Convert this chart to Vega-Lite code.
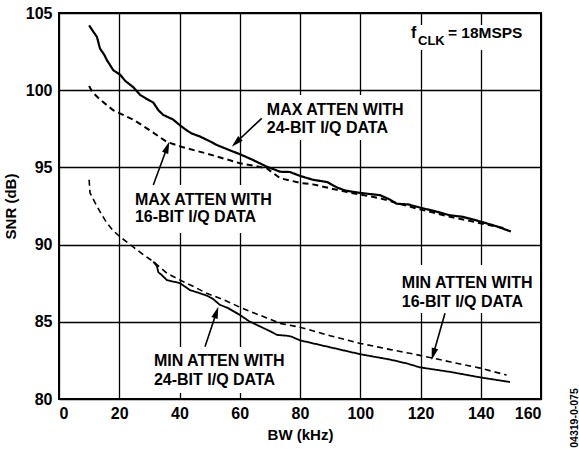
{
  "$schema": "https://vega.github.io/schema/vega-lite/v6.json",
  "autosize": {"type": "none"},
  "width": 482,
  "height": 386,
  "padding": {"left": 59, "top": 13, "right": 38, "bottom": 50},
  "background": "white",
  "config": {
    "view": {"stroke": "black", "strokeWidth": 2},
    "font": "Liberation Sans",
    "axis": {
      "grid": true, "gridColor": "black", "gridWidth": 1.3, "gridOpacity": 1,
      "domain": false, "ticks": false, "tickSize": 0,
      "labelFont": "Liberation Sans", "labelFontSize": 16, "labelFontWeight": "bold", "labelColor": "black",
      "titleFont": "Liberation Sans", "titleFontSize": 15, "titleFontWeight": "bold", "titleColor": "black"
    }
  },
  "datasets": {
    "curves": [
      {"series": "MAX24", "bw": 10, "snr": 104.2},
      {"series": "MAX24", "bw": 11, "snr": 103.9},
      {"series": "MAX24", "bw": 12.6, "snr": 103.45},
      {"series": "MAX24", "bw": 13.6, "snr": 102.7},
      {"series": "MAX24", "bw": 15, "snr": 102.3},
      {"series": "MAX24", "bw": 15.9, "snr": 101.95},
      {"series": "MAX24", "bw": 18, "snr": 101.3},
      {"series": "MAX24", "bw": 20.3, "snr": 101.0},
      {"series": "MAX24", "bw": 22, "snr": 100.6},
      {"series": "MAX24", "bw": 24.6, "snr": 100.2},
      {"series": "MAX24", "bw": 26.9, "snr": 99.7},
      {"series": "MAX24", "bw": 29, "snr": 99.45},
      {"series": "MAX24", "bw": 31.3, "snr": 99.2},
      {"series": "MAX24", "bw": 33, "snr": 98.7},
      {"series": "MAX24", "bw": 34.6, "snr": 98.4},
      {"series": "MAX24", "bw": 37.9, "snr": 98.1},
      {"series": "MAX24", "bw": 40, "snr": 97.75},
      {"series": "MAX24", "bw": 42.4, "snr": 97.4},
      {"series": "MAX24", "bw": 44, "snr": 97.2},
      {"series": "MAX24", "bw": 46.8, "snr": 97.0},
      {"series": "MAX24", "bw": 50, "snr": 96.7},
      {"series": "MAX24", "bw": 52.4, "snr": 96.45},
      {"series": "MAX24", "bw": 56.8, "snr": 96.1},
      {"series": "MAX24", "bw": 60.1, "snr": 95.85},
      {"series": "MAX24", "bw": 64.4, "snr": 95.48},
      {"series": "MAX24", "bw": 68.9, "snr": 95.05},
      {"series": "MAX24", "bw": 71, "snr": 94.9},
      {"series": "MAX24", "bw": 73.4, "snr": 94.72},
      {"series": "MAX24", "bw": 76.7, "snr": 94.7},
      {"series": "MAX24", "bw": 80, "snr": 94.45},
      {"series": "MAX24", "bw": 84.3, "snr": 94.2},
      {"series": "MAX24", "bw": 89, "snr": 94.05},
      {"series": "MAX24", "bw": 92.3, "snr": 93.7},
      {"series": "MAX24", "bw": 95, "snr": 93.5},
      {"series": "MAX24", "bw": 99.9, "snr": 93.35},
      {"series": "MAX24", "bw": 106.6, "snr": 93.2},
      {"series": "MAX24", "bw": 110, "snr": 92.9},
      {"series": "MAX24", "bw": 112, "snr": 92.65},
      {"series": "MAX24", "bw": 116, "snr": 92.6},
      {"series": "MAX24", "bw": 119.8, "snr": 92.4},
      {"series": "MAX24", "bw": 124, "snr": 92.2},
      {"series": "MAX24", "bw": 129.8, "snr": 91.9},
      {"series": "MAX24", "bw": 134, "snr": 91.8},
      {"series": "MAX24", "bw": 139.8, "snr": 91.5},
      {"series": "MAX24", "bw": 145, "snr": 91.2},
      {"series": "MAX24", "bw": 150, "snr": 90.85},
      {"series": "MAX16", "bw": 10, "snr": 100.27},
      {"series": "MAX16", "bw": 11, "snr": 99.9},
      {"series": "MAX16", "bw": 13.6, "snr": 99.4},
      {"series": "MAX16", "bw": 18, "snr": 98.7},
      {"series": "MAX16", "bw": 24.6, "snr": 98.1},
      {"series": "MAX16", "bw": 30.2, "snr": 97.4},
      {"series": "MAX16", "bw": 35.8, "snr": 96.65},
      {"series": "MAX16", "bw": 41.2, "snr": 96.3},
      {"series": "MAX16", "bw": 49, "snr": 95.9},
      {"series": "MAX16", "bw": 60, "snr": 95.27},
      {"series": "MAX16", "bw": 65, "snr": 95.1},
      {"series": "MAX16", "bw": 69, "snr": 94.94},
      {"series": "MAX16", "bw": 73.4, "snr": 94.3},
      {"series": "MAX16", "bw": 80, "snr": 94.0},
      {"series": "MAX16", "bw": 84.3, "snr": 93.9},
      {"series": "MAX16", "bw": 95.6, "snr": 93.4},
      {"series": "MAX16", "bw": 106.6, "snr": 93.0},
      {"series": "MAX16", "bw": 117.5, "snr": 92.4},
      {"series": "MAX16", "bw": 129.8, "snr": 91.8},
      {"series": "MAX16", "bw": 142, "snr": 91.3},
      {"series": "MAX16", "bw": 148, "snr": 91.05},
      {"series": "MIN16", "bw": 10, "snr": 94.2},
      {"series": "MIN16", "bw": 10.3, "snr": 93.35},
      {"series": "MIN16", "bw": 12, "snr": 92.7},
      {"series": "MIN16", "bw": 14, "snr": 92.0},
      {"series": "MIN16", "bw": 15.9, "snr": 91.4},
      {"series": "MIN16", "bw": 18, "snr": 90.9},
      {"series": "MIN16", "bw": 20.3, "snr": 90.5},
      {"series": "MIN16", "bw": 24.6, "snr": 89.85},
      {"series": "MIN16", "bw": 28, "snr": 89.35},
      {"series": "MIN16", "bw": 31.3, "snr": 88.9},
      {"series": "MIN16", "bw": 35.8, "snr": 88.15},
      {"series": "MIN16", "bw": 40.2, "snr": 87.7},
      {"series": "MIN16", "bw": 45, "snr": 87.25},
      {"series": "MIN16", "bw": 49, "snr": 86.85},
      {"series": "MIN16", "bw": 55, "snr": 86.4},
      {"series": "MIN16", "bw": 60, "snr": 85.95},
      {"series": "MIN16", "bw": 65, "snr": 85.55},
      {"series": "MIN16", "bw": 69, "snr": 85.25},
      {"series": "MIN16", "bw": 73.4, "snr": 84.9},
      {"series": "MIN16", "bw": 80, "snr": 84.65},
      {"series": "MIN16", "bw": 90, "snr": 84.1},
      {"series": "MIN16", "bw": 100, "snr": 83.6},
      {"series": "MIN16", "bw": 110, "snr": 83.2},
      {"series": "MIN16", "bw": 118, "snr": 82.9},
      {"series": "MIN16", "bw": 124, "snr": 82.65},
      {"series": "MIN16", "bw": 130, "snr": 82.4},
      {"series": "MIN16", "bw": 139.8, "snr": 82.0},
      {"series": "MIN16", "bw": 148.6, "snr": 81.55},
      {"series": "MIN24", "bw": 31.3, "snr": 88.9},
      {"series": "MIN24", "bw": 32.5, "snr": 88.6},
      {"series": "MIN24", "bw": 33, "snr": 88.2},
      {"series": "MIN24", "bw": 34, "snr": 88.05},
      {"series": "MIN24", "bw": 35.8, "snr": 87.7},
      {"series": "MIN24", "bw": 38, "snr": 87.6},
      {"series": "MIN24", "bw": 40.2, "snr": 87.5},
      {"series": "MIN24", "bw": 43.5, "snr": 87.05},
      {"series": "MIN24", "bw": 46, "snr": 86.9},
      {"series": "MIN24", "bw": 49, "snr": 86.7},
      {"series": "MIN24", "bw": 51, "snr": 86.5},
      {"series": "MIN24", "bw": 53.4, "snr": 86.1},
      {"series": "MIN24", "bw": 56, "snr": 85.9},
      {"series": "MIN24", "bw": 60, "snr": 85.45},
      {"series": "MIN24", "bw": 63, "snr": 85.05},
      {"series": "MIN24", "bw": 66.7, "snr": 84.7},
      {"series": "MIN24", "bw": 70, "snr": 84.4},
      {"series": "MIN24", "bw": 72.4, "snr": 84.15},
      {"series": "MIN24", "bw": 75.6, "snr": 84.1},
      {"series": "MIN24", "bw": 77, "snr": 84.05},
      {"series": "MIN24", "bw": 80, "snr": 83.8},
      {"series": "MIN24", "bw": 90, "snr": 83.35},
      {"series": "MIN24", "bw": 100, "snr": 82.9},
      {"series": "MIN24", "bw": 110, "snr": 82.55},
      {"series": "MIN24", "bw": 115.5, "snr": 82.3},
      {"series": "MIN24", "bw": 119.8, "snr": 82.05},
      {"series": "MIN24", "bw": 130, "snr": 81.75},
      {"series": "MIN24", "bw": 139.8, "snr": 81.4},
      {"series": "MIN24", "bw": 149.7, "snr": 81.1}
    ],
    "boxes": [
      {"x1": 67.4, "x2": 116.5, "y1": 99.69, "y2": 96.77},
      {"x1": 23.6, "x2": 72.7, "y1": 93.86, "y2": 90.75},
      {"x1": 30.2, "x2": 78.3, "y1": 83.37, "y2": 80.39},
      {"x1": 112.2, "x2": 158.7, "y1": 88.68, "y2": 85.57},
      {"x1": 114.9, "x2": 154.7, "y1": 104.22, "y2": 102.6}
    ],
    "labels": [
      {"text": "MAX ATTEN WITH", "x": 68.98, "y": 98.72},
      {"text": "24-BIT I/Q DATA", "x": 68.98, "y": 97.53},
      {"text": "MAX ATTEN WITH", "x": 25.2, "y": 92.89},
      {"text": "16-BIT I/Q DATA", "x": 25.2, "y": 91.81},
      {"text": "MIN ATTEN WITH", "x": 31.5, "y": 82.46},
      {"text": "24-BIT I/Q DATA", "x": 31.5, "y": 81.23},
      {"text": "MIN ATTEN WITH", "x": 113.8, "y": 87.49},
      {"text": "16-BIT I/Q DATA", "x": 113.8, "y": 86.3}
    ],
    "fclk": [
      {"text": "f", "x": 116.85, "y": 103.7, "size": 16},
      {"text": "CLK", "x": 119.17, "y": 103.19, "size": 13},
      {"text": "= 18MSPS", "x": 129.1, "y": 103.7, "size": 15.5}
    ],
    "arrows": [
      {"x1": 67.29, "y1": 98.18, "x2": 58.79, "y2": 96.61, "angle": 226.5},
      {"x1": 31.3, "y1": 93.86, "x2": 35.92, "y2": 96.3, "angle": 20.3},
      {"x1": 48.46, "y1": 83.39, "x2": 52.25, "y2": 85.61, "angle": 18.4},
      {"x1": 128.13, "y1": 85.55, "x2": 124.25, "y2": 82.9, "angle": 195.9}
    ],
    "side": [
      {"text": "04319-0-075", "x": 171.3, "y": 78.77}
    ]
  },
  "layer": [
    {
      "data": {"name": "boxes"},
      "mark": {"type": "rect", "fill": "white", "stroke": null},
      "encoding": {
        "x": {"field": "x1", "type": "quantitative", "scale": {"domain": [0, 160], "nice": false},
              "axis": {"values": [0, 20, 40, 60, 80, 100, 120, 140, 160], "title": "BW (kHz)", "labelPadding": 6, "titlePadding": 6}},
        "x2": {"field": "x2"},
        "y": {"field": "y1", "type": "quantitative", "scale": {"domain": [80, 105], "nice": false, "zero": false},
              "axis": {"values": [80, 85, 90, 95, 100, 105], "title": "SNR (dB)", "labelPadding": 7, "titlePadding": 7}},
        "y2": {"field": "y2"}
      }
    },
    {
      "data": {"name": "curves"},
      "mark": {"type": "line", "color": "black", "strokeCap": "butt", "strokeJoin": "round"},
      "encoding": {
        "x": {"field": "bw", "type": "quantitative"},
        "y": {"field": "snr", "type": "quantitative"},
        "detail": {"field": "series"},
        "strokeDash": {"field": "series", "type": "nominal",
          "scale": {"domain": ["MAX24", "MAX16", "MIN24", "MIN16"], "range": [[1, 0], [6, 4], [1, 0], [6, 4]]}, "legend": null},
        "strokeWidth": {"field": "series", "type": "nominal",
          "scale": {"domain": ["MAX24", "MAX16", "MIN24", "MIN16"], "range": [2.2, 1.6, 2.2, 1.6]}, "legend": null}
      }
    },
    {
      "data": {"name": "labels"},
      "mark": {"type": "text", "align": "left", "baseline": "middle", "fontSize": 16, "fontWeight": "bold", "font": "Liberation Sans", "color": "black"},
      "encoding": {
        "x": {"field": "x", "type": "quantitative"},
        "y": {"field": "y", "type": "quantitative"},
        "text": {"field": "text"}
      }
    },
    {
      "data": {"name": "fclk"},
      "mark": {"type": "text", "align": "left", "baseline": "middle", "fontWeight": "bold", "font": "Liberation Sans", "color": "black"},
      "encoding": {
        "x": {"field": "x", "type": "quantitative"},
        "y": {"field": "y", "type": "quantitative"},
        "text": {"field": "text"},
        "size": {"field": "size", "type": "quantitative", "scale": null}
      }
    },
    {
      "data": {"name": "arrows"},
      "mark": {"type": "rule", "color": "black", "strokeWidth": 1.6},
      "encoding": {
        "x": {"field": "x1", "type": "quantitative"},
        "y": {"field": "y1", "type": "quantitative"},
        "x2": {"field": "x2"},
        "y2": {"field": "y2"}
      }
    },
    {
      "data": {"name": "arrows"},
      "mark": {"type": "point", "shape": "M0,-1L0.55,1L-0.55,1Z", "filled": true, "color": "black", "opacity": 1, "size": 144},
      "encoding": {
        "x": {"field": "x2", "type": "quantitative"},
        "y": {"field": "y2", "type": "quantitative"},
        "angle": {"field": "angle", "type": "quantitative", "scale": null}
      }
    },
    {
      "data": {"name": "side"},
      "mark": {"type": "text", "align": "center", "baseline": "middle", "angle": 270, "fontSize": 10.5, "fontWeight": "bold", "font": "Liberation Sans", "color": "black"},
      "encoding": {
        "x": {"field": "x", "type": "quantitative"},
        "y": {"field": "y", "type": "quantitative"},
        "text": {"field": "text"}
      }
    }
  ]
}
